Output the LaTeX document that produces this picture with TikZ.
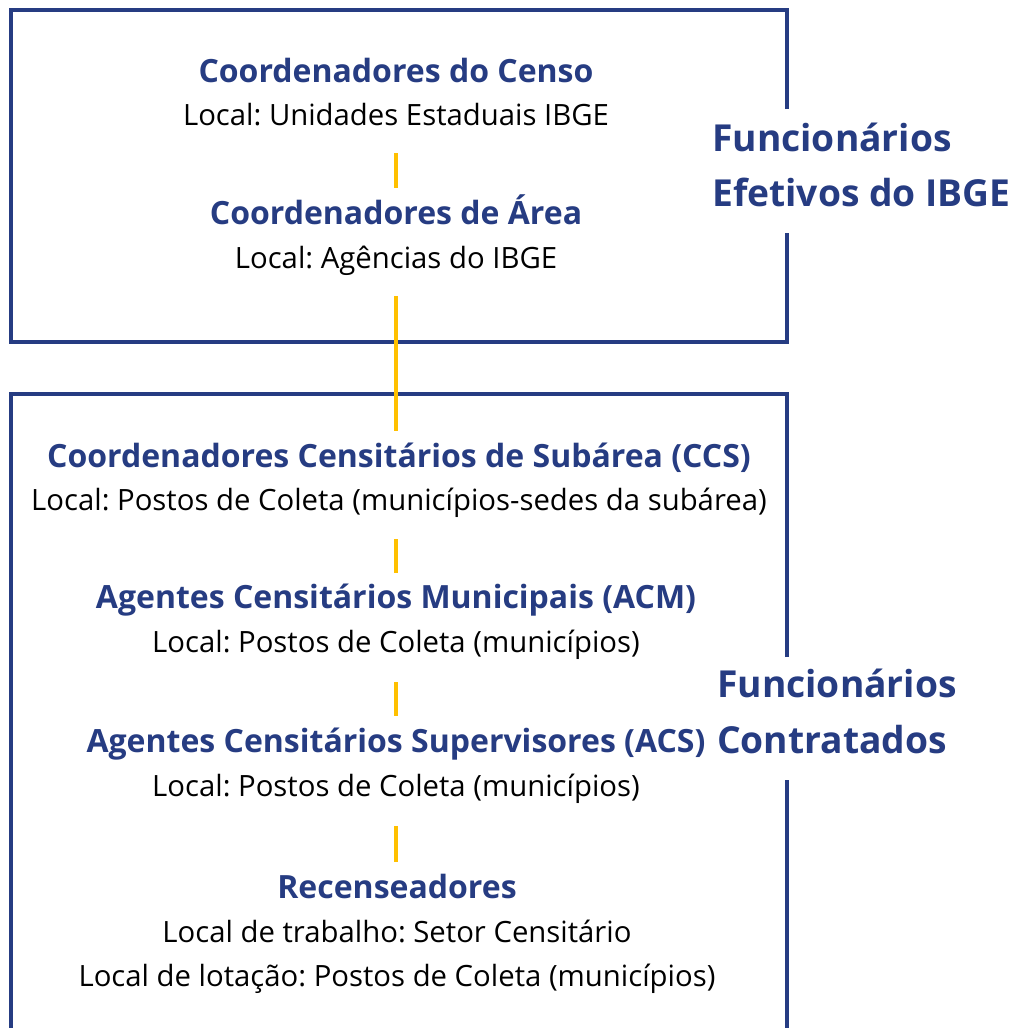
\documentclass[tikz,border=0pt]{standalone}
\usepackage{fontspec}
\setmainfont{Open Sans}
\definecolor{ibgeblue}{RGB}{38,60,130}
\definecolor{ibgeyellow}{RGB}{255,192,0}
\begin{document}
\frenchspacing
\begin{tikzpicture}[x=1pt,y=-1pt,
  head/.style={anchor=base,inner sep=0pt,font=\fontsize{32}{38}\selectfont\bfseries,text=ibgeblue},
  loc/.style={anchor=base,inner sep=0pt,font=\fontsize{29.3}{35}\selectfont,text=black},
  side/.style={anchor=base west,inner sep=0pt,font=\fontsize{37.2}{44}\selectfont\bfseries,text=ibgeblue},
  frame/.style={draw=ibgeblue,line width=3.5pt,line join=miter},
  link/.style={draw=ibgeyellow,line width=3.2pt}]
\useasboundingbox (0,0) rectangle (1028,1028);
\fill[white] (0,0) rectangle (1028,1028);
% frames
\draw[frame] (787,109) -- (787,10) -- (11,10) -- (11,342) -- (787,342) -- (787,233);
\draw[frame] (787,657) -- (787,394) -- (11,394) -- (11,1030);
\draw[frame] (787,780) -- (787,1030);
% texts
\node[head] (h1) at (396,82) {Coordenadores do Censo};
\node[loc]  (l1) at (396,125) {Local: Unidades Estaduais IBGE};
\node[head] (h2) at (396,224) {Coordenadores de Área};
\node[loc]  (l2) at (396,268) {Local: Agências do IBGE};
\node[head] (h3) at (399,467) {Coordenadores Censitários de Subárea (CCS)};
\node[loc]  (l3) at (399,510) {Local: Postos de Coleta (municípios-sedes da subárea)};
\node[head] (h4) at (396,608) {Agentes Censitários Municipais (ACM)};
\node[loc]  (l4) at (396,652) {Local: Postos de Coleta (municípios)};
\node[head] (h5) at (396,752) {Agentes Censitários Supervisores (ACS)};
\node[loc]  (l5) at (396,796) {Local: Postos de Coleta (municípios)};
\node[head] (h6) at (397,898) {Recenseadores};
\node[loc]  (l6a) at (397,942) {Local de trabalho: Setor Censitário};
\node[loc]  (l6b) at (397,986) {Local de lotação: Postos de Coleta (municípios)};
\node[side] (s1a) at (712,151) {Funcionários};
\node[side] (s1b) at (712,206) {Efetivos do IBGE};
\node[side] (s2a) at (717,697) {Funcionários};
\node[side] (s2b) at (717,753) {Contratados};
% connectors
\coordinate (c1a) at (396,153); \coordinate (c1b) at (396,188);
\coordinate (c2a) at (396,296); \coordinate (c2b) at (396,431);
\coordinate (c3a) at (396,539); \coordinate (c3b) at (396,573);
\coordinate (c4a) at (396,682); \coordinate (c4b) at (396,716);
\coordinate (c5a) at (396,826); \coordinate (c5b) at (396,862);
\draw[link] (c1a) -- (c1b);
\draw[link] (c2a) -- (c2b);
\draw[link] (c3a) -- (c3b);
\draw[link] (c4a) -- (c4b);
\draw[link] (c5a) -- (c5b);
\end{tikzpicture}
\end{document}
